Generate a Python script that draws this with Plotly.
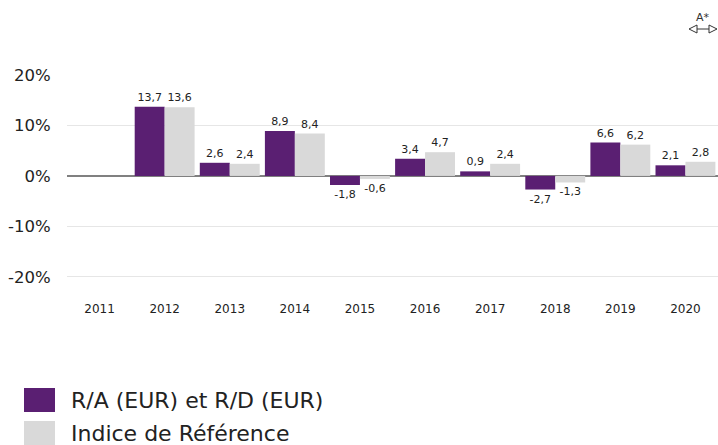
import plotly.graph_objects as go

years = ["2011", "2012", "2013", "2014", "2015", "2016", "2017", "2018", "2019", "2020"]
fund_name = "R/A (EUR) et R/D (EUR)"
bench_name = "Indice de Référence"
fund = [None, 13.7, 2.6, 8.9, -1.8, 3.4, 0.9, -2.7, 6.6, 2.1]
bench = [None, 13.6, 2.4, 8.4, -0.6, 4.7, 2.4, -1.3, 6.2, 2.8]
ytickvals = [-20, -10, 0, 10, 20]
yticktext = ["-20%", "-10%", "0%", "10%", "20%"]

PURPLE = "#5a1f72"
GREY = "#d9d9d9"

W, H = 718, 445
ML, MR, MT, MB = 67, 0, 75, 148
PW, PH = W - ML - MR, H - MT - MB


def px(x):
    return (x - ML) / PW


def py(y):
    return (H - MB - y) / PH


def fmt(v):
    return "" if v is None else f"{v:.1f}".replace(".", ",")


fig = go.Figure()
for name, vals, col in [(fund_name, fund, PURPLE), (bench_name, bench, GREY)]:
    fig.add_trace(go.Bar(
        x=years, y=vals, name=name, marker=dict(color=col, line=dict(width=0)),
        text=[fmt(v) for v in vals], textposition="outside", constraintext="none",
        textfont=dict(family="DejaVu Sans", size=11, color="#222222"),
        cliponaxis=False, showlegend=False,
    ))

fig.update_layout(
    width=W, height=H,
    margin=dict(l=ML, r=MR, t=MT, b=MB),
    paper_bgcolor="white", plot_bgcolor="white",
    barmode="group", bargap=0.08, bargroupgap=0,
    font=dict(family="DejaVu Sans", color="#222222"),
    xaxis=dict(showgrid=False, showline=False, ticks="outside", ticklen=1,
               tickcolor="rgba(0,0,0,0)", tickfont=dict(size=12, color="#222222")),
    yaxis=dict(range=[-24, 20], tickvals=ytickvals, ticktext=yticktext,
               showgrid=True, gridcolor="#e6e6e6", gridwidth=1,
               zeroline=True, zerolinecolor="#808080", zerolinewidth=2,
               ticks="outside", ticklen=12, tickcolor="rgba(0,0,0,0)",
               tickfont=dict(size=16.5, color="#222222")),
)

# custom legend
for i, (name, col) in enumerate([(fund_name, PURPLE), (bench_name, GREY)]):
    yc = 400 + i * 33
    fig.add_shape(type="rect", xref="paper", yref="paper",
                  x0=px(24), x1=px(55), y0=py(yc - 12), y1=py(yc + 12),
                  fillcolor=col, line=dict(width=0))
    fig.add_annotation(xref="paper", yref="paper", x=px(69), y=py(yc),
                       text=name, showarrow=False, xanchor="left", yanchor="middle",
                       font=dict(size=22, color="#222222"))

# top-right icon
fig.add_annotation(xref="paper", yref="paper", x=px(703), y=py(18), text="A*",
                   showarrow=False, xanchor="center", yanchor="middle",
                   font=dict(size=11, color="#333333"))
fig.add_shape(type="line", xref="paper", yref="paper", x0=px(697), x1=px(709),
              y0=py(29), y1=py(29), line=dict(color="#333333", width=1))
fig.add_shape(type="path", xref="paper", yref="paper",
              path=f"M {px(689)} {py(29)} L {px(697)} {py(25)} L {px(697)} {py(33)} Z",
              line=dict(color="#333333", width=1), fillcolor="white")
fig.add_shape(type="path", xref="paper", yref="paper",
              path=f"M {px(717)} {py(29)} L {px(709)} {py(25)} L {px(709)} {py(33)} Z",
              line=dict(color="#333333", width=1), fillcolor="white")

fig.write_html(
    "out.html",
    config={"displayModeBar": False},
    post_script="document.body.style.margin='0';document.body.style.overflow='hidden';",
)
